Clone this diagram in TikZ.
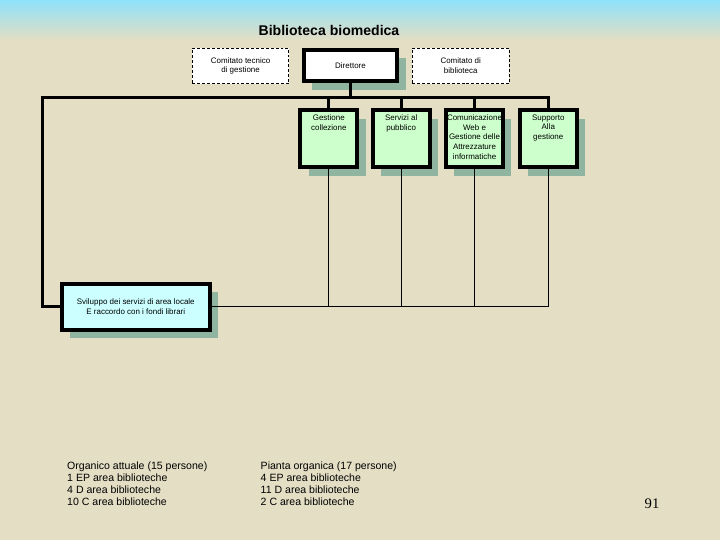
\documentclass[tikz,border=0pt]{standalone}
\usepackage{fontspec}
\setmainfont{Liberation Sans}
\newfontfamily\slidenumfont{Liberation Serif}
\usetikzlibrary{shadows}
\definecolor{bgbeige}{RGB}{227,222,196}
\definecolor{skyblue}{RGB}{142,226,250}
\definecolor{shadowgreen}{RGB}{143,181,160}
\definecolor{officegreen}{RGB}{204,255,204}
\definecolor{officecyan}{RGB}{204,255,255}

\begin{document}
\begin{tikzpicture}[x=0.03cm, y=-0.03cm,
  boxfont/.style={font=\fontsize{6.8}{8.3}\selectfont, align=center},
  comitato/.style={draw, dashed, dash pattern=on 2.5pt off 1.7pt, fill=white, line width=0.8pt,
    minimum width=2.9cm, minimum height=1.07cm, inner sep=0, boxfont},
  unit/.style={draw, line width=3.4pt, inner sep=0, boxfont,
    drop shadow={shadow xshift=0.25cm, shadow yshift=-0.25cm, fill=shadowgreen, opacity=1}},
  ufficio/.style={unit, fill=officegreen, minimum width=1.71cm, minimum height=1.71cm},
  boxtext/.style={boxfont, inner sep=0, anchor=north, shift={(0,6.2)}},
  spine/.style={line width=2.6pt},
  feeder/.style={line width=0.8pt},
  notes/.style={font=\fontsize{9}{10.2}\selectfont, align=left, anchor=north west, inner sep=0}]

  % Slide background
  \fill[bgbeige] (0,0) rectangle (720,540);
  \shade[top color=skyblue, bottom color=bgbeige] (0,0) rectangle (720,40);

  \node[font=\fontsize{12}{14}\selectfont\bfseries] (titolo) at (329,30) {Biblioteca biomedica};

  % Top row: committees and director
  \node[comitato] (tecnico) at (240.6,66) {Comitato tecnico\\di gestione};
  \node[unit, fill=white, minimum width=2.81cm, minimum height=0.95cm] (direttore) at (350.5,65.5) {Direttore};
  \node[comitato] (consiglio) at (460.7,66) {Comitato di\\biblioteca};

  % Offices
  \node[ufficio] (gestione) at (328.8,138.7) {};
  \node[ufficio] (servizi) at (401.2,138.7) {};
  \node[ufficio] (comunicazione) at (474.5,138.7) {};
  \node[ufficio] (supporto) at (548.3,138.7) {};
  \node[boxtext] (gestione-t) at (gestione.north) {Gestione\\collezione};
  \node[boxtext] (servizi-t) at (servizi.north) {Servizi al\\pubblico};
  \node[boxtext] (comunicazione-t) at (comunicazione.north) {Comunicazione\\Web e\\Gestione delle\\Attrezzature\\informatiche};
  \node[boxtext] (supporto-t) at (supporto.north) {Supporto\\Alla\\gestione};

  \node[unit, fill=officecyan, minimum width=4.43cm, minimum height=1.38cm] (sviluppo) at (135.8,306.7)
    {Sviluppo dei servizi di area locale\\E raccordo con i fondi librari};

  % Thick lines from the director
  \coordinate (snodo) at (42.3,97.5);
  \draw[spine] (sviluppo.west) -| (snodo) -| (supporto.north);
  \draw[spine] (direttore.south) -- (direttore.south |- snodo);
  \foreach \u in {gestione, servizi, comunicazione}
    \draw[spine] (\u.north |- snodo) -- (\u.north);

  % Thin lines to the local services
  \draw[feeder] (sviluppo.east) -| (supporto.south);
  \foreach \u in {gestione, servizi, comunicazione}
    \draw[feeder] (\u.south) -- (\u.south |- sviluppo.east);

  % Staff notes
  \node[notes] (attuale) at (67,461.5) {Organico attuale (15 persone)\\1 EP area biblioteche\\4 D area biblioteche\\10 C area biblioteche};
  \node[notes] (pianta) at (260.5,461.5) {Pianta organica (17 persone)\\4 EP area biblioteche\\11 D area biblioteche\\2 C area biblioteche};

  \node[font=\slidenumfont\fontsize{12.5}{14}\selectfont] (pagina) at (652,504) {91};
\end{tikzpicture}
\end{document}
